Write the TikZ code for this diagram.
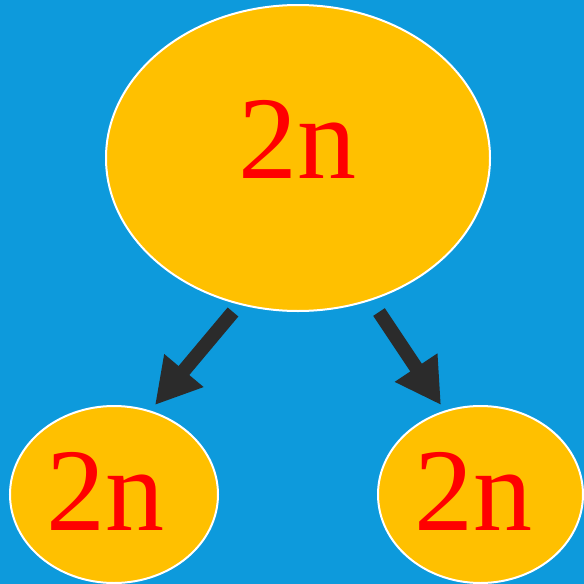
\documentclass[tikz,border=0pt]{standalone}
\usepackage{fontspec}
\setmainfont{Liberation Serif}
\usetikzlibrary{shapes.geometric,arrows.meta}
\definecolor{bgblue}{RGB}{13,154,220}
\definecolor{nodeyellow}{RGB}{255,192,0}
\definecolor{arrowgray}{RGB}{43,43,43}
\tikzset{
  blob/.style={ellipse, draw=white, line width=2pt, fill=nodeyellow, inner sep=0pt},
  lbl/.style={text=red, anchor=base, inner sep=0pt, font=\fontsize{118}{118}\selectfont},
  bigarrow/.style={draw=arrowgray, line width=14pt, -{Triangle[length=45pt,width=48pt]}}
}
\begin{document}
\begin{tikzpicture}[x=1pt,y=-1pt]
\fill[bgblue] (0,0) rectangle (584,584);
\useasboundingbox (0,0) rectangle (584,584);
\node[blob, minimum width=384pt, minimum height=306pt] (top) at (298,158) {};
\node[blob, minimum width=208pt, minimum height=177pt] (left) at (114,494.5) {};
\node[blob, minimum width=205pt, minimum height=177pt] (right) at (480.5,494.5) {};
\node[lbl] (toplbl) at (297,178) {2n};
\node[lbl] (leftlbl) at (105,530) {2n};
\node[lbl] (rightlbl) at (473,530) {2n};
\coordinate (ls) at (233,312);
\coordinate (le) at (155,405);
\coordinate (rs) at (379,312);
\coordinate (re) at (441,405);
\draw[bigarrow] (ls) -- (le);
\draw[bigarrow] (rs) -- (re);
\end{tikzpicture}
\end{document}
